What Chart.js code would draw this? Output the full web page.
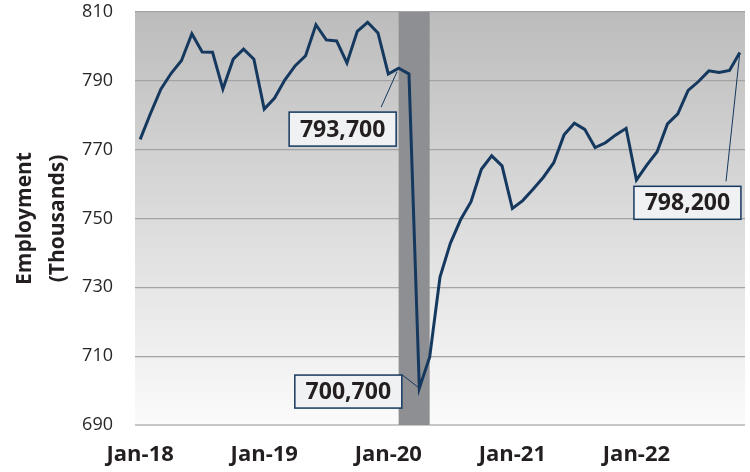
<!DOCTYPE html>
<html>
<head>
<meta charset="utf-8">
<script src="https://cdn.jsdelivr.net/npm/chart.js@4/dist/chart.umd.min.js"></script>
<style>
  html, body { margin: 0; padding: 0; background: #ffffff; }
  #c { display: block; }
</style>
</head>
<body>
<canvas id="c" width="750" height="472"></canvas>
<script>
// ---- Data ----
const months = [
  'Jan-18','Feb-18','Mar-18','Apr-18','May-18','Jun-18','Jul-18','Aug-18','Sep-18','Oct-18','Nov-18','Dec-18',
  'Jan-19','Feb-19','Mar-19','Apr-19','May-19','Jun-19','Jul-19','Aug-19','Sep-19','Oct-19','Nov-19','Dec-19',
  'Jan-20','Feb-20','Mar-20','Apr-20','May-20','Jun-20','Jul-20','Aug-20','Sep-20','Oct-20','Nov-20','Dec-20',
  'Jan-21','Feb-21','Mar-21','Apr-21','May-21','Jun-21','Jul-21','Aug-21','Sep-21','Oct-21','Nov-21','Dec-21',
  'Jan-22','Feb-22','Mar-22','Apr-22','May-22','Jun-22','Jul-22','Aug-22','Sep-22','Oct-22','Nov-22'
];
const employment = [
  773.0, 780.5, 787.6, 792.2, 795.9, 803.7, 798.4, 798.3, 787.6, 796.3, 799.2, 796.3,
  781.8, 785.0, 790.3, 794.4, 797.3, 806.3, 801.9, 801.6, 795.2, 804.4, 807.0, 803.9,
  792.0, 793.7, 792.0, 700.7, 709.7, 733.0, 742.8, 749.7, 754.9, 764.3, 768.2, 765.3,
  752.9, 755.2, 758.5, 762.0, 766.2, 774.3, 777.7, 775.9, 770.6, 772.0, 774.3, 776.2,
  761.2, 765.5, 769.4, 777.5, 780.4, 787.2, 789.8, 792.9, 792.4, 793.0, 798.2
];
const tickLabels = ['Jan-18','Jan-19','Jan-20','Jan-21','Jan-22'];
const yTicks = [690, 710, 730, 750, 770, 790, 810];
const recessionMonths = ['Feb-20', 'May-20'];
const calloutMonths = ['Feb-20', 'Apr-20', 'Nov-22'];
const yTitle = ['Employment', '(Thousands)'];

// ---- Layout / style for callouts (positions relative to the data point) ----
const calloutLayout = [
  { dx: -56,   dy: 61,    w: 107, h: 34, lx: 38.5, ly: -5, gap: 4 },
  { dx: -71,   dy: 3.4,   w: 107, h: 33, lx: 53.5, ly: -0.5, gap: 0 },
  { dx: -52.4, dy: 150.2, w: 107, h: 33, lx: 38.6, ly: -5, gap: 1 }
];

const NAVY = '#15385f';

const bgPlugin = {
  id: 'bg',
  beforeDraw(chart) {
    const { ctx, chartArea: a } = chart;
    const g = ctx.createLinearGradient(0, a.top, 0, a.bottom);
    g.addColorStop(0, '#bcbcbc');
    g.addColorStop(1, '#fbfbfb');
    ctx.save();
    ctx.fillStyle = g;
    ctx.fillRect(a.left, a.top, a.right - a.left, a.bottom - a.top);
    ctx.restore();
  }
};

const recessionPlugin = {
  id: 'recession',
  beforeDatasetsDraw(chart) {
    const { ctx, chartArea: a, scales: { x } } = chart;
    const x0 = x.getPixelForValue(months.indexOf(recessionMonths[0]));
    const x1 = x.getPixelForValue(months.indexOf(recessionMonths[1]));
    ctx.save();
    ctx.fillStyle = '#8e8f93';
    ctx.fillRect(x0, a.top, x1 - x0, a.bottom - a.top);
    ctx.restore();
  }
};

const calloutPlugin = {
  id: 'callouts',
  afterDatasetsDraw(chart) {
    const { ctx, scales: { x, y } } = chart;
    ctx.save();
    calloutMonths.forEach((m, k) => {
      const i = months.indexOf(m);
      const v = employment[i];
      const px = x.getPixelForValue(i);
      const py = y.getPixelForValue(v);
      const L = calloutLayout[k];
      const cx = px + L.dx, cy = py + L.dy;
      const bx = cx - L.w / 2, by = cy - L.h / 2;
      const sx = cx + L.lx;
      const sy = (L.ly < 0 ? by + L.ly : cy + L.ly);
      const dxl = px - sx, dyl = py - sy;
      const len = Math.hypot(dxl, dyl);
      const ex = px - dxl / len * L.gap, ey = py - dyl / len * L.gap;
      ctx.strokeStyle = NAVY;
      ctx.lineWidth = 1;
      ctx.beginPath();
      ctx.moveTo(sx, sy);
      ctx.lineTo(ex, ey);
      ctx.stroke();
      ctx.fillStyle = '#f0f1f3';
      ctx.fillRect(bx, by, L.w, L.h);
      ctx.lineWidth = 1.5;
      ctx.strokeStyle = NAVY;
      ctx.strokeRect(bx, by, L.w, L.h);
      const label = Math.round(v * 1000).toLocaleString('en-US');
      ctx.fillStyle = '#231f20';
      ctx.font = 'bold 23px "Open Sans"';
      ctx.textAlign = 'center';
      ctx.textBaseline = 'middle';
      ctx.fillText(label, cx, cy + 1);
    });
    ctx.restore();
  }
};

new Chart(document.getElementById('c'), {
  type: 'line',
  data: {
    labels: months,
    datasets: [{
      data: employment,
      borderColor: NAVY,
      borderWidth: 3,
      pointRadius: 0,
      tension: 0,
      fill: false
    }]
  },
  options: {
    responsive: false,
    animation: false,
    layout: { padding: { top: 12, right: 5, left: 0, bottom: 0 } },
    plugins: { legend: { display: false }, tooltip: { enabled: false } },
    scales: {
      x: {
        type: 'category',
        offset: true,
        grid: { display: false, drawTicks: false },
        border: { display: false },
        ticks: {
          autoSkip: false,
          maxRotation: 0,
          minRotation: 0,
          padding: 17,
          color: '#231f20',
          font: { family: 'Open Sans', weight: 'bold', size: 22 },
          callback: function (v, i) { return tickLabels.includes(months[i]) ? months[i] : ''; }
        },
        afterFit(s) { s.height = 47; s.paddingLeft = 0; s.paddingRight = 0; }
      },
      y: {
        min: 690,
        max: 810,
        afterBuildTicks(s) { s.ticks = yTicks.map(v => ({ value: v })); },
        ticks: {
          padding: 22,
          color: '#262626',
          font: { family: 'Open Sans', size: 18 }
        },
        grid: {
          drawTicks: false,
          color: (c) => c.tick && c.tick.value === 690 ? '#c8c8c8' : '#a3a3a3',
          lineWidth: (c) => c.tick && c.tick.value === 690 ? 2 : 1.3
        },
        border: { display: false },
        title: {
          display: true,
          text: yTitle,
          color: '#231f20',
          font: { family: 'Open Sans', weight: 'bold', size: 21, lineHeight: 1.55 },
          padding: { top: 9, bottom: 0 }
        },
        afterFit(s) { s.width = 135; s.paddingTop = 0; s.paddingBottom = 0; }
      }
    }
  },
  plugins: [bgPlugin, recessionPlugin, calloutPlugin]
});
</script>
</body>
</html>
